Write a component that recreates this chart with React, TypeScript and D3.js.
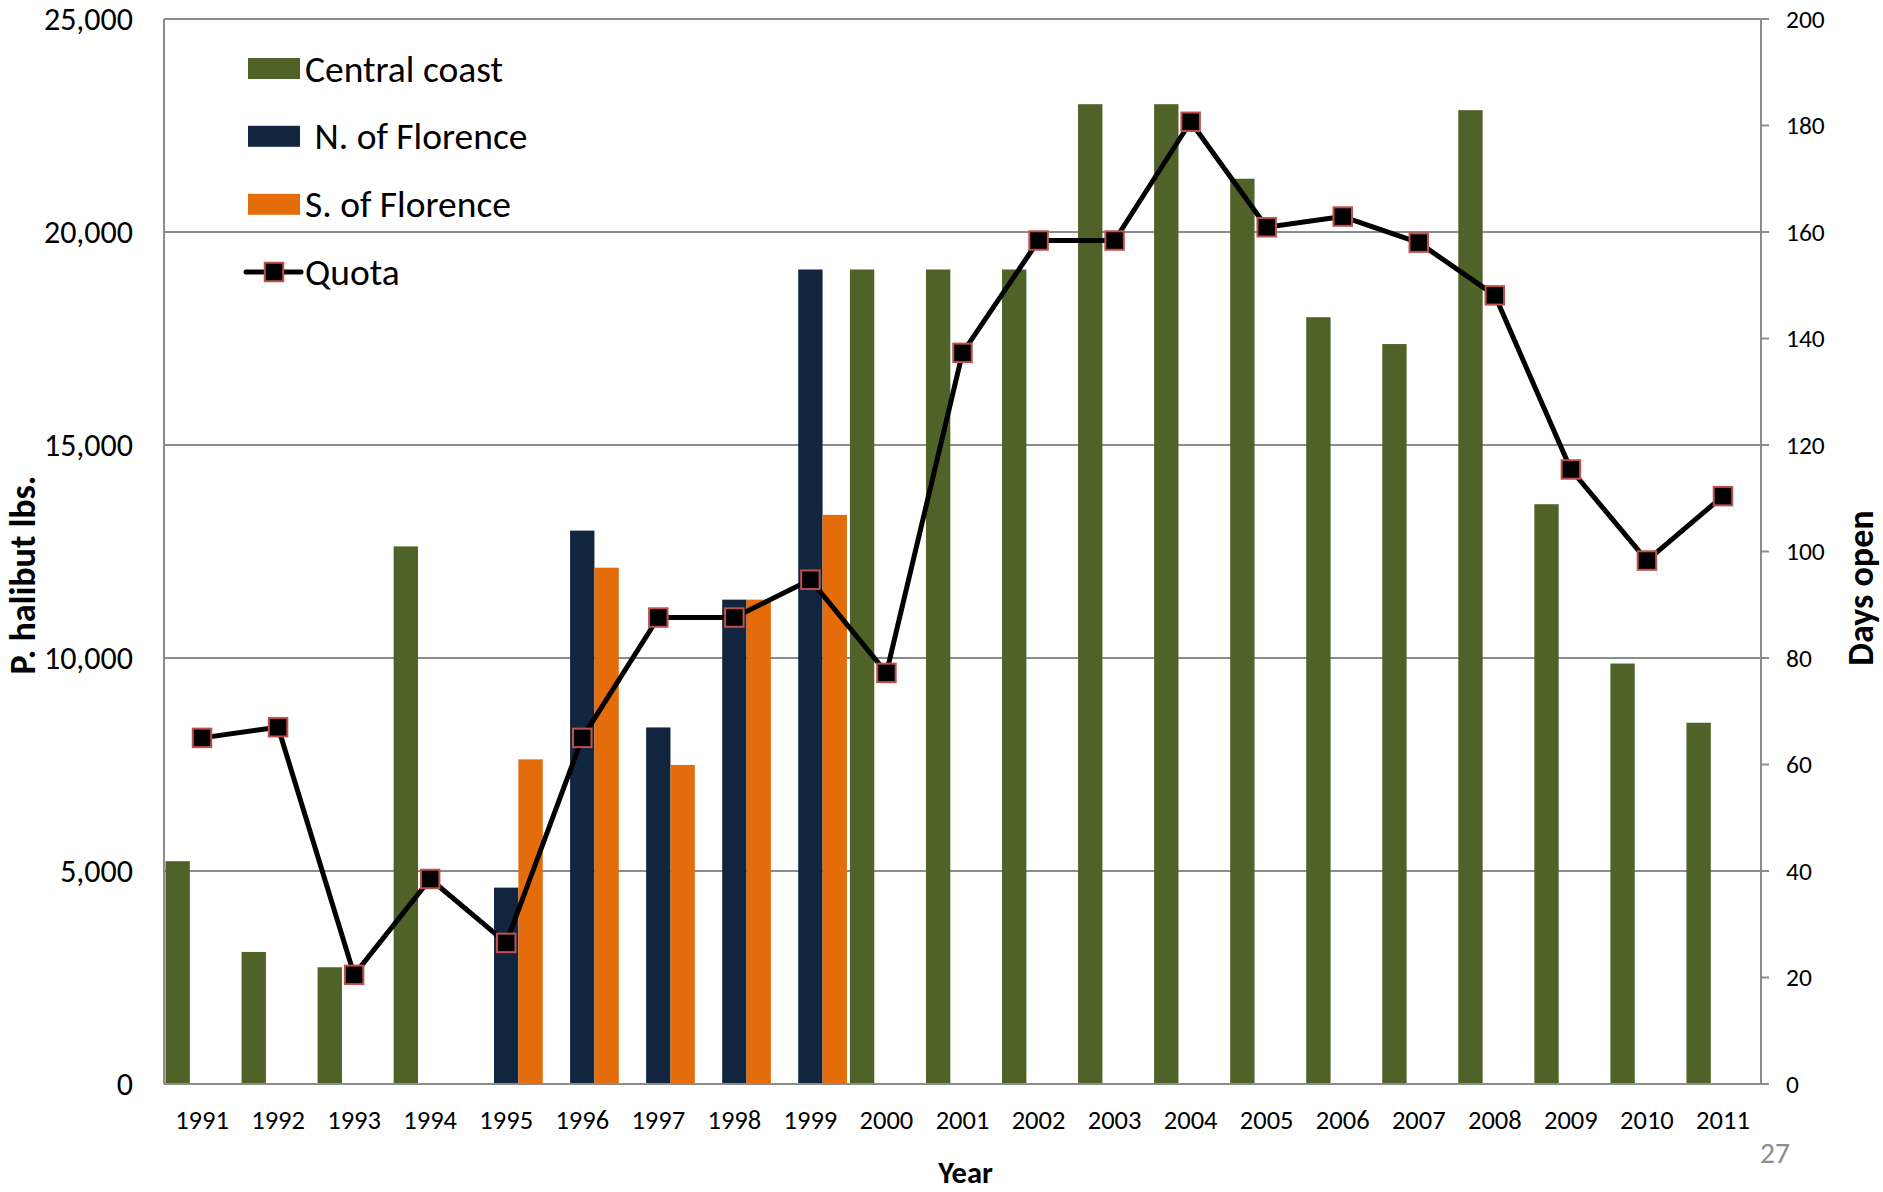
import React from "react";
import * as d3 from "d3";

const years = ["1991","1992","1993","1994","1995","1996","1997","1998","1999","2000","2001","2002","2003","2004","2005","2006","2007","2008","2009","2010","2011"];
const centralCoast: (number | null)[] = [5230, 3100, 2740, 12620, null, null, null, null, null, 19120, 19120, 19120, 23000, 23000, 21250, 18000, 17370, 22860, 13610, 9870, 8480];
const northFlorence: (number | null)[] = [null, null, null, null, 4610, 12990, 8370, 11370, 19120, null, null, null, null, null, null, null, null, null, null, null, null];
const southFlorence: (number | null)[] = [null, null, null, null, 7620, 12120, 7490, 11370, 13360, null, null, null, null, null, null, null, null, null, null, null, null];
const quotaDays = [65, 67, 20.5, 38.5, 26.5, 65, 87.6, 87.6, 94.7, 77.2, 137.3, 158.4, 158.4, 180.7, 160.9, 162.9, 158, 148.1, 115.4, 98.3, 110.4];
const leftTicks = [0, 5000, 10000, 15000, 20000, 25000];
const rightTicks = [0, 20, 40, 60, 80, 100, 120, 140, 160, 180, 200];
const seriesNames = ["Central coast", "N. of Florence", "S. of Florence"];
const seriesColors = ["#4F6228", "#12253F", "#E46C0A"];

const W = 1883, H = 1192;
const L = 164, R = 1761, T = 19, B = 1084;
const FONT = "Carlito, Lato, sans-serif";

export default function App() {
  const x0 = d3.scaleBand<string>().domain(years).range([L, R]).paddingInner(0).paddingOuter(0);
  const bw = x0.bandwidth();
  const x1 = d3.scaleBand<string>().domain(seriesNames).range([1.5, bw - 1.5]).padding(0);
  const yL = d3.scaleLinear().domain([0, 25000]).range([B, T]);
  const yR = d3.scaleLinear().domain([0, 200]).range([B, T]);
  const fmt = d3.format(",");
  const seriesData = [centralCoast, northFlorence, southFlorence];

  const line = d3.line<number>()
    .x((_, i) => (x0(years[i]) as number) + bw / 2)
    .y((d) => yR(d));

  const ms = 18.5;
  const legendRows = [68.5, 136.3, 204.3];

  return (
    <svg width={W} height={H} style={{ position: "absolute", left: 0, top: 0, display: "block", background: "#fff" }}>
      <rect x={0} y={0} width={W} height={H} fill="#fff" />
      {leftTicks.filter((t) => t > 0).map((t) => (
        <line key={"g" + t} x1={L} x2={R} y1={yL(t)} y2={yL(t)} stroke="#8c8c8c" strokeWidth={2} />
      ))}
      {seriesData.map((arr, si) =>
        arr.map((v, i) =>
          v == null ? null : (
            <rect
              key={si + "-" + i}
              x={(x0(years[i]) as number) + (x1(seriesNames[si]) as number)}
              y={yL(v)}
              width={x1.bandwidth()}
              height={B - yL(v)}
              fill={seriesColors[si]}
            />
          )
        )
      )}
      <line x1={L} x2={L} y1={T} y2={B} stroke="#8c8c8c" strokeWidth={2} />
      <line x1={R} x2={R} y1={T} y2={B} stroke="#8c8c8c" strokeWidth={2} />
      <line x1={L} x2={R + 8} y1={B} y2={B} stroke="#8c8c8c" strokeWidth={2} />
      {rightTicks.map((t) => (
        <line key={"rt" + t} x1={R} x2={R + 8} y1={yR(t)} y2={yR(t)} stroke="#8c8c8c" strokeWidth={2} />
      ))}
      {leftTicks.map((t) => (
        <text key={"lt" + t} x={133} y={yL(t)} textAnchor="end" dominantBaseline="central" fontFamily={FONT} fontSize={32} fill="#000">
          {fmt(t)}
        </text>
      ))}
      {rightTicks.map((t) => (
        <text key={"rl" + t} x={1786} y={yR(t)} textAnchor="start" dominantBaseline="central" fontFamily={FONT} fontSize={25.5} fill="#000">
          {t}
        </text>
      ))}
      {years.map((yv) => (
        <text key={"x" + yv} x={(x0(yv) as number) + bw / 2} y={1129} textAnchor="middle" fontFamily={FONT} fontSize={26.5} fill="#000">
          {yv}
        </text>
      ))}
      <path d={line(quotaDays) || ""} fill="none" stroke="#000" strokeWidth={5} strokeLinejoin="round" />
      {quotaDays.map((d, i) => (
        <rect
          key={"m" + i}
          x={(x0(years[i]) as number) + bw / 2 - ms / 2}
          y={yR(d) - ms / 2}
          width={ms}
          height={ms}
          fill="#000"
          stroke="#C0504D"
          strokeWidth={2}
        />
      ))}
      <text transform="translate(23,575) rotate(-90)" textAnchor="middle" dominantBaseline="central" fontFamily={FONT} fontWeight="bold" fontSize={36} fill="#000">
        P. halibut lbs.
      </text>
      <text transform="translate(1861,588) rotate(-90)" textAnchor="middle" dominantBaseline="central" fontFamily={FONT} fontWeight="bold" fontSize={36} fill="#000">
        Days open
      </text>
      <text x={(L + R) / 2 + 3} y={1183} textAnchor="middle" fontFamily={FONT} fontWeight="bold" fontSize={30.5} fill="#000">
        Year
      </text>
      <text x={1760} y={1163} textAnchor="start" fontFamily={FONT} fontSize={29.5} fill="#8c8c8c">
        27
      </text>
      {seriesNames.map((n, i) => (
        <g key={"lg" + n}>
          <rect x={248} y={legendRows[i] - 10.5} width={52} height={21} fill={seriesColors[i]} />
          <text x={i === 1 ? 314.5 : 305} y={legendRows[i]} dominantBaseline="central" fontFamily={FONT} fontSize={37.5} fill="#000">
            {n}
          </text>
        </g>
      ))}
      <line x1={246} x2={301} y1={272} y2={272} stroke="#000" strokeWidth={5} strokeLinecap="round" />
      <rect x={274 - ms / 2} y={272 - ms / 2} width={ms} height={ms} fill="#000" stroke="#C0504D" strokeWidth={2} />
      <text x={305} y={272} dominantBaseline="central" fontFamily={FONT} fontSize={37.5} fill="#000">
        Quota
      </text>
    </svg>
  );
}
